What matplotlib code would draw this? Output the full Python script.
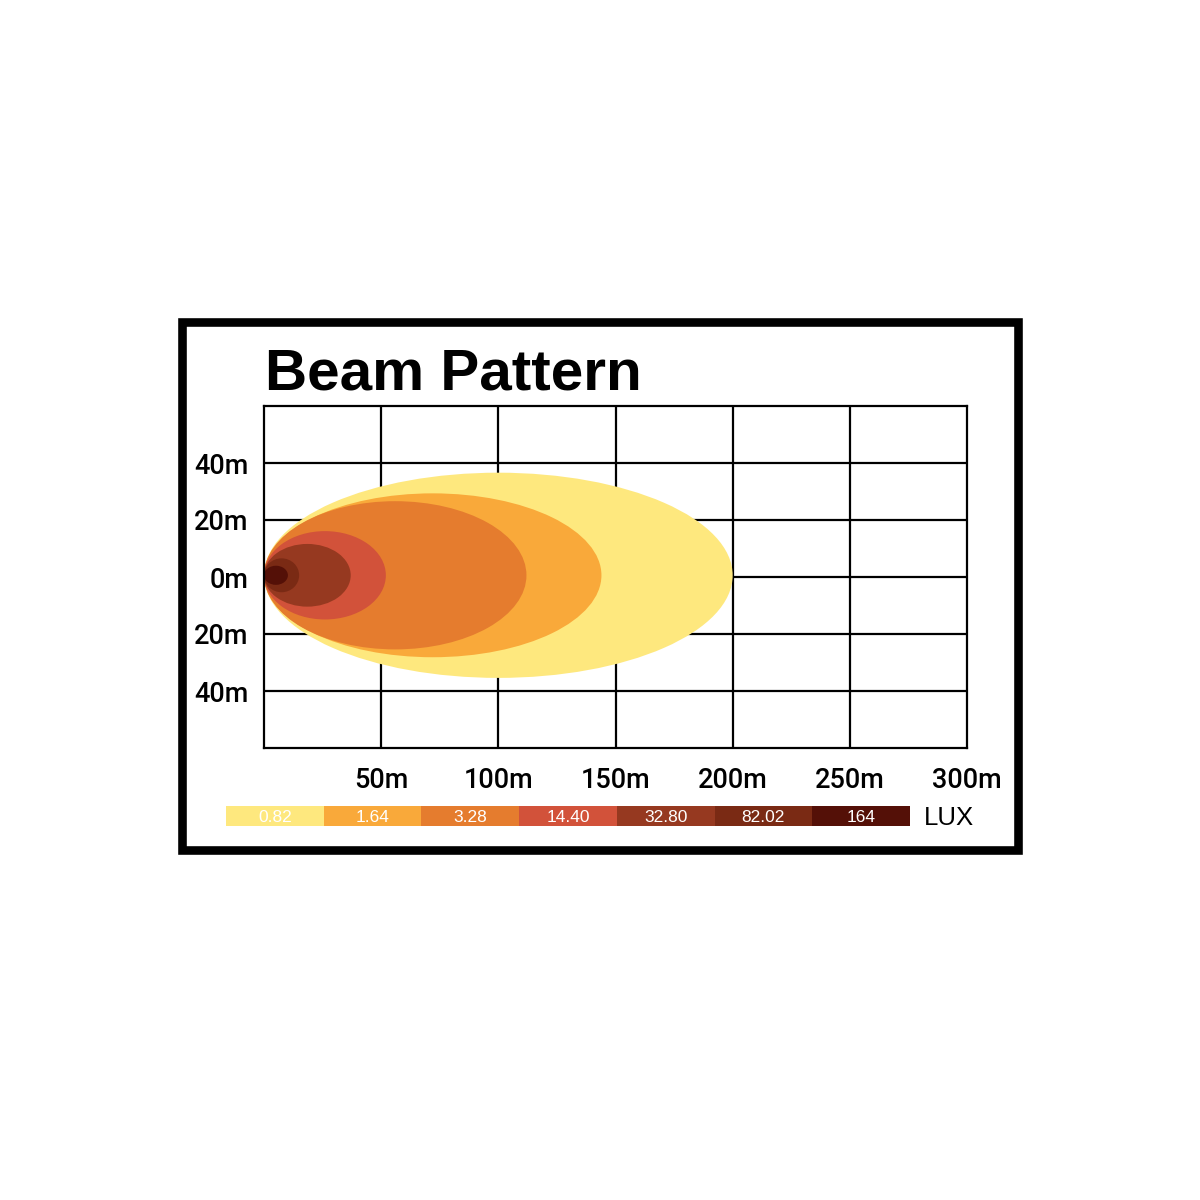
import matplotlib
matplotlib.use("Agg")
import matplotlib.pyplot as plt
from matplotlib.patches import Ellipse, Rectangle

# ---- data ----
lux_levels = ["0.82", "1.64", "3.28", "14.40", "32.80", "82.02", "164"]
beam_reach_m = [200, 144, 112, 52, 37, 15, 10.2]      # distance reached by each isolux contour
beam_width_m = [72, 57.5, 52, 31, 22, 11.9, 6.7]      # full width of each contour
lux_colors = ["#FEE87E", "#F9A93A", "#E57C2E", "#D2523A", "#963920", "#7A2A14", "#541007"]
x_ticks = [50, 100, 150, 200, 250, 300]
x_labels = ["50m", "100m", "150m", "200m", "250m", "300m"]
y_ticks = [40, 20, 0, -20, -40]
y_labels = ["40m", "20m", "0m", "20m", "40m"]

W = H = 1200
fig = plt.figure(figsize=(12, 12), dpi=100)
fig.patch.set_facecolor("white")

def fx(px):
    return px / W

def fy(py):
    return 1 - py / H

tick_font = ["Roboto", "DejaVu Sans"]

# frame
fig.patches.append(Rectangle((fx(182), fy(849.5)), fx(1017.5) - fx(182), fy(322) - fy(849.5),
                             transform=fig.transFigure, fill=False, edgecolor="black",
                             linewidth=6.2, zorder=0))

# title
fig.text(fx(265), fy(389), "Beam Pattern", fontsize=42, fontweight="bold",
         family=["Liberation Sans", "DejaVu Sans"], ha="left", va="baseline")

# main axes
ax = fig.add_axes([fx(264), fy(748), fx(967) - fx(264), fy(406) - fy(748)])
ax.set_xlim(0, 300)
ax.set_ylim(-60, 60)
for x in range(50, 300, 50):
    ax.axvline(x, color="black", lw=1.6, zorder=1)
for y in range(-40, 60, 20):
    ax.axhline(y, color="black", lw=1.6, zorder=1)
for s in ax.spines.values():
    s.set_linewidth(1.6)
    s.set_zorder(5)

for i, (reach, width, col) in enumerate(zip(beam_reach_m, beam_width_m, lux_colors)):
    e = Ellipse((reach / 2, 0.6), reach, width, facecolor=col, edgecolor="none", zorder=2 + i * 0.01)
    ax.add_patch(e)

ax.set_xticks(x_ticks)
ax.set_xticklabels(x_labels)
ax.set_yticks(y_ticks)
ax.set_yticklabels(y_labels)
ax.tick_params(axis="both", length=0, labelsize=19.5)
ax.tick_params(axis="x", pad=14)
ax.tick_params(axis="y", pad=11.5)
for lab in ax.get_xticklabels() + ax.get_yticklabels():
    lab.set_family(tick_font)
    lab.set_fontweight("medium")

# legend bar
lax = fig.add_axes([fx(226), fy(826), fx(910) - fx(226), fy(806) - fy(826)])
idx = list(range(len(lux_levels)))
lax.bar(idx, [1] * len(idx), width=1.0, color=lux_colors, edgecolor="none")
lax.set_xlim(-0.5, len(idx) - 0.5)
lax.set_ylim(0, 1)
lax.axis("off")
for i, lab in zip(idx, lux_levels):
    lax.text(i, 0.45, lab, color="white", fontsize=12.5, ha="center", va="center",
             family=["Liberation Sans", "DejaVu Sans"])

fig.text(fx(924), fy(818), "LUX", fontsize=18.5, ha="left", va="center",
         family=["Liberation Sans", "DejaVu Sans"])

fig.savefig("out.png", dpi=100, facecolor="white")
